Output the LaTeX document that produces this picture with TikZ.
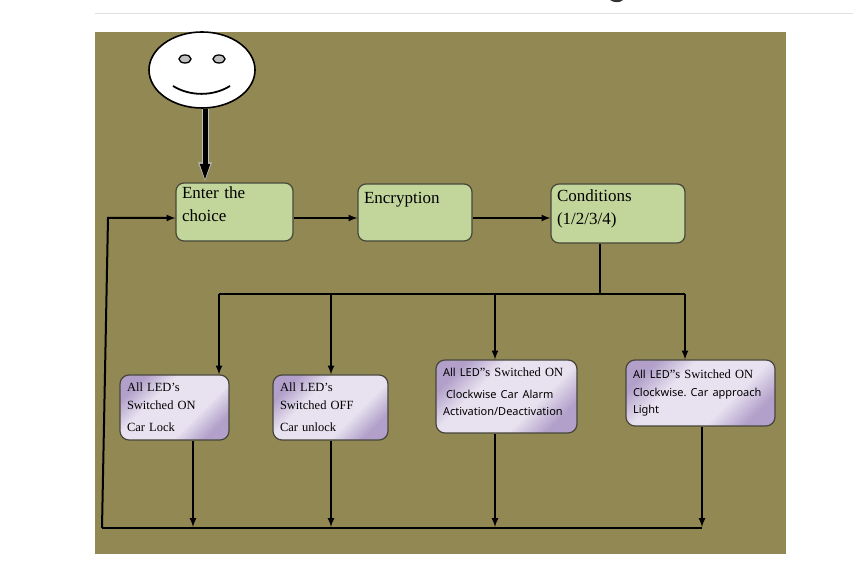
\documentclass[tikz,border=0pt]{standalone}
\usepackage{fontspec}
\setmainfont{Liberation Serif}
\newfontfamily\ledsans{Noto Sans}
\newcommand{\ledtext}{\ledsans\fontsize{11}{18}\selectfont}
\definecolor{myolive}{RGB}{146,136,83}
\definecolor{mygreen}{RGB}{194,214,155}
\definecolor{myedge}{RGB}{70,70,58}
\definecolor{mypurple}{RGB}{178,160,202}
\definecolor{mylilac}{RGB}{232,226,240}
\pgfdeclareverticalshading{ledshade}{100bp}{color(0bp)=(mypurple); color(25bp)=(mypurple); color(38bp)=(mylilac); color(62bp)=(mylilac); color(75bp)=(mypurple); color(100bp)=(mypurple)}
\usepackage{tikz}
\usetikzlibrary{arrows,arrows.meta,positioning,shapes.geometric}
\tikzstyle{greenbox}=[draw=myedge,fill=mygreen,line width=1.2pt,rounded corners=8pt,inner sep=0pt,align=left,font=\fontsize{17}{23}\selectfont]
\tikzstyle{ledbox}=[draw=myedge,shading=ledshade,shading angle=45,line width=1.2pt,rounded corners=9pt,inner sep=0pt,align=left,font=\fontsize{12.5}{18}\selectfont]
\tikzstyle{flow}=[line width=2pt,->,>=latex]
\tikzstyle{plain}=[line width=2pt]
\tikzstyle{bighalo}=[draw=black!25,line width=7pt,-{Triangle[length=20pt,width=12pt]}]
\tikzstyle{bigcore}=[line width=5pt,-{Triangle[length=17pt,width=9pt]},shorten >=1.5pt]
\begin{document}
\begin{tikzpicture}[x=1pt,y=1pt]
\useasboundingbox (0,0) rectangle (853,586);
\fill[myolive] (95,32) rectangle (786,554);
\draw[black!12,line width=1pt] (95,572.5) -- (853,572.5);
\fill[black!80] (610,586) .. controls (614,583) and (620,583) .. (623,586) -- cycle;
% face
\node [draw,fill=white,ellipse,line width=1.6pt,minimum width=106pt,minimum height=76pt,inner sep=0pt] (face) at (202,516) {};
\node [draw,fill=black!25,ellipse,line width=1.3pt,minimum width=12pt,minimum height=8pt,inner sep=0pt] (lefteye) at (185,527) {};
\node [draw,fill=black!25,ellipse,line width=1.3pt,minimum width=12pt,minimum height=8pt,inner sep=0pt] (righteye) at (219,527) {};
\draw[line width=1.8pt] (173,500) .. controls (190,489.5) and (213,489.5) .. (230,500);
% upper row
\node [greenbox,minimum width=117pt,minimum height=58pt,text width=105pt] (choice) at (234.5,374) {Enter the\\choice\\[-15pt]\strut};
\node [greenbox,minimum width=114pt,minimum height=57pt,text width=102pt] (encryption) at (415,373.5) {Encryption\\\strut};
\node [greenbox,minimum width=134pt,minimum height=59pt,text width=122pt] (conditions) at (618,372.5) {Conditions\\(1/2/3/4)\\[-17pt]\strut};
% lower row
\node [ledbox,minimum width=109pt,minimum height=65pt,text width=95pt] (ledon) at (174.5,178.5) {All LED’s\\Switched ON\\[4pt]Car Lock};
\node [ledbox,minimum width=115pt,minimum height=65pt,text width=101pt] (ledoff) at (330.5,178.5) {All LED’s\\Switched OFF\\[4pt]Car unlock};
\node [ledbox,minimum width=141pt,minimum height=73pt,text width=127pt] (alarm) at (506.5,189.5) {{\ledtext All LED}”s Switched ON\\[4pt]{\ledtext\hspace*{3pt}Clockwise Car Alarm}\\[-1pt]{\ledtext Activation/Deactivation}\\[-14pt]\strut};
\node [ledbox,minimum width=149pt,minimum height=66pt,text width=135pt] (approach) at (700.5,193) {{\ledtext All LED}”s Switched ON\\{\ledtext Clockwise.\ Car approach}\\[-1pt]{\ledtext Light}};
% helper points
\coordinate (row) at (108,368);
\coordinate (split) at (600,292);
\coordinate (busa) at (219,292);
\coordinate (busb) at (331,292);
\coordinate (busc) at (495,292);
\coordinate (busd) at (685,292);
\coordinate (reta) at (193,59);
\coordinate (retb) at (331,59);
\coordinate (retc) at (495,59);
\coordinate (retd) at (702,59);
\coordinate (corner) at (102,58);
\coordinate (busend) at (702,58);
% connectors
\draw[bighalo] ([xshift=3pt]face.south) -- ([xshift=-29.5pt]choice.north);
\draw[bigcore] ([xshift=3pt]face.south) -- ([xshift=-29.5pt]choice.north);
\draw[flow] (choice.east |- row) -- (encryption.west |- row);
\draw[flow] (encryption.east |- row) -- (conditions.west |- row);
\draw[plain] (split |- conditions.south) -- (split);
\draw[plain] (busa) -- (busd);
\draw[flow] (busa) -- (busa |- ledon.north);
\draw[flow] (busb) -- (busb |- ledoff.north);
\draw[flow] (busc) -- (busc |- alarm.north);
\draw[flow] (busd) -- (busd |- approach.north);
\draw[flow] (reta |- ledon.south) -- (reta);
\draw[flow] (retb |- ledoff.south) -- (retb);
\draw[flow] (retc |- alarm.south) -- (retc);
\draw[flow] (retd |- approach.south) -- (retd);
\draw[plain] (busend) -- (corner);
\draw[flow] (corner) -- (row) -- (choice.west |- row);
\end{tikzpicture}
\end{document}
